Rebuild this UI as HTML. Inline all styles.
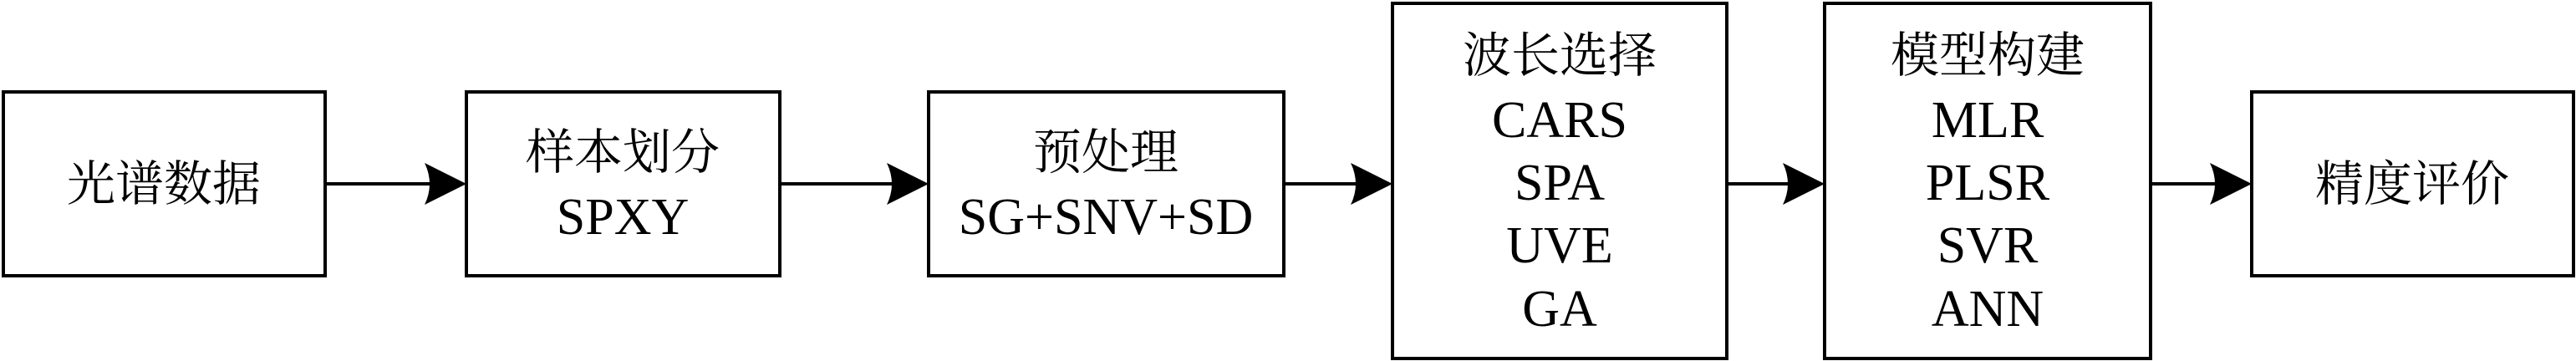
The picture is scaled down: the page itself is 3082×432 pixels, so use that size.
<!DOCTYPE html>
<html><head><meta charset="utf-8"><style>html,body{margin:0;padding:0;background:#fff}svg{display:block}
.t{font-family:"Liberation Serif","Noto Serif CJK SC",serif;}</style></head>
<body>
<svg width="3082" height="432" viewBox="0 0 3082 432" xmlns="http://www.w3.org/2000/svg">
<defs>
<path id="ah" d="M0,-25 L50,0 L0,25 Q12,0 0,-25 Z" fill="#000"/>
</defs>
<g fill="none" stroke="#000" stroke-width="4">
<rect x="4" y="110" width="385" height="220"/>
<rect x="558" y="110" width="375" height="220"/>
<rect x="1111" y="110" width="425" height="220"/>
<rect x="1666" y="4" width="400" height="425"/>
<rect x="2183" y="4" width="390" height="425"/>
<rect x="2694" y="110" width="385" height="220"/>
<line x1="389" y1="220" x2="515" y2="220"/>
<line x1="933" y1="220" x2="1068" y2="220"/>
<line x1="1536" y1="220" x2="1622" y2="220"/>
<line x1="2066" y1="220" x2="2142" y2="220"/>
<line x1="2573" y1="220" x2="2650" y2="220"/>
</g>
<use href="#ah" x="508" y="220"/>
<use href="#ah" x="1061" y="220"/>
<use href="#ah" x="1616" y="220"/>
<use href="#ah" x="2133" y="220"/>
<use href="#ah" x="2644" y="220"/>
<g class="t" font-size="58" text-anchor="middle" fill="#000">
<text x="196" y="240">光谱数据</text>
<text x="745" y="202">样本划分</text>
<text x="745" y="280" font-size="62">SPXY</text>
<text x="1323" y="202">预处理</text>
<text x="1323" y="280" font-size="62">SG+SNV+SD</text>
<text x="1866" y="86">波长选择</text>
<text x="1866" y="164" font-size="62">CARS</text>
<text x="1866" y="239" font-size="62">SPA</text>
<text x="1866" y="314" font-size="62">UVE</text>
<text x="1866" y="390" font-size="62">GA</text>
<text x="2378" y="86">模型构建</text>
<text x="2378" y="164" font-size="62">MLR</text>
<text x="2378" y="239" font-size="62">PLSR</text>
<text x="2378" y="314" font-size="62">SVR</text>
<text x="2378" y="390" font-size="62">ANN</text>
<text x="2886" y="240">精度评价</text>
</g>
</svg>
</body></html>
